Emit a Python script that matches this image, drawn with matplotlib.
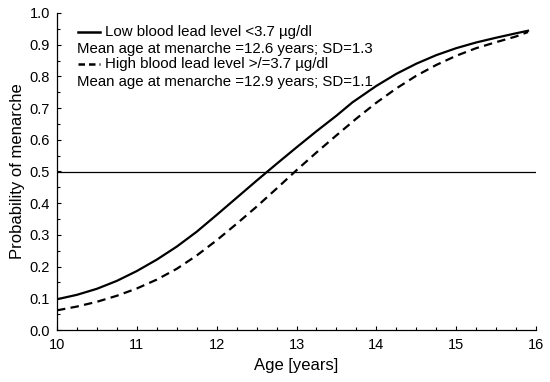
import matplotlib
matplotlib.use("Agg")
import matplotlib.pyplot as plt
from matplotlib.ticker import MultipleLocator, FormatStrFormatter

plt.rcParams['font.family'] = ['Liberation Sans', 'DejaVu Sans']

age_low = [10.0, 10.25, 10.5, 10.75, 11.0, 11.25, 11.5, 11.75, 12.0, 12.25, 12.5, 12.75,
           13.0, 13.25, 13.5, 13.7, 14.0, 14.25, 14.5, 14.75, 15.0, 15.25, 15.5, 15.75, 15.9]
prob_low = [0.097, 0.111, 0.130, 0.155, 0.186, 0.222, 0.263, 0.310, 0.363, 0.417, 0.471, 0.524,
            0.576, 0.627, 0.676, 0.718, 0.770, 0.808, 0.840, 0.867, 0.889, 0.907, 0.922, 0.936, 0.944]

age_high = [10.0, 10.25, 10.5, 10.75, 11.0, 11.25, 11.5, 11.75, 12.0, 12.25, 12.5, 12.75,
            13.0, 13.25, 13.5, 13.75, 14.0, 14.25, 14.5, 14.75, 15.0, 15.25, 15.5, 15.75, 15.9]
prob_high = [0.062, 0.074, 0.089, 0.108, 0.131, 0.159, 0.193, 0.235, 0.283, 0.335, 0.389, 0.446,
             0.504, 0.560, 0.614, 0.667, 0.717, 0.762, 0.802, 0.836, 0.865, 0.889, 0.908, 0.926, 0.940]

ref_level = 0.5

label_low = "Low blood lead level <3.7 µg/dl"
stats_low = "Mean age at menarche =12.6 years; SD=1.3"
label_high = "High blood lead level >/=3.7 µg/dl"
stats_high = "Mean age at menarche =12.9 years; SD=1.1"

fig = plt.figure(figsize=(5.5, 3.82), dpi=100)
ax = fig.add_axes([57/550, 52/382, 479/550, 317/382])

ax.plot(age_low, prob_low, color='black', lw=1.6, solid_joinstyle='round')
ax.plot(age_high, prob_high, color='black', lw=1.6, dashes=(3.8, 2.4))
ax.axhline(ref_level, color='black', lw=0.9)

ax.set_xlim(10, 16)
ax.set_ylim(0, 1.0)
ax.xaxis.set_major_locator(MultipleLocator(1))
ax.xaxis.set_minor_locator(MultipleLocator(0.25))
ax.yaxis.set_major_locator(MultipleLocator(0.1))
ax.yaxis.set_minor_locator(MultipleLocator(0.05))
ax.yaxis.set_major_formatter(FormatStrFormatter('%.1f'))
ax.tick_params(which='both', direction='in', labelsize=10.5, width=0.8)
ax.tick_params(which='major', length=3)
ax.tick_params(which='minor', length=2)
ax.tick_params(axis='x', pad=6)
ax.tick_params(axis='y', pad=5)
for s in ['top', 'right']:
    ax.spines[s].set_visible(False)
for s in ['left', 'bottom']:
    ax.spines[s].set_linewidth(0.9)

ax.set_xlabel("Age [years]", fontsize=12, labelpad=4)
ax.set_ylabel("Probability of menarche", fontsize=12, labelpad=3)

# legend-like block
fs = 10.8
ax.plot([0.044, 0.090], [0.941, 0.941], transform=ax.transAxes, color='black', lw=1.8)
ax.text(0.100, 0.941, label_low, transform=ax.transAxes, fontsize=fs, va='center')
ax.text(0.042, 0.885, stats_low, transform=ax.transAxes, fontsize=fs, va='center')
ax.plot([0.044, 0.090], [0.839, 0.839], transform=ax.transAxes, color='black', lw=1.8, dashes=(2.6, 1.6))
ax.text(0.100, 0.839, label_high, transform=ax.transAxes, fontsize=fs, va='center')
ax.text(0.042, 0.783, stats_high, transform=ax.transAxes, fontsize=fs, va='center')

fig.savefig("out.png", dpi=100)
